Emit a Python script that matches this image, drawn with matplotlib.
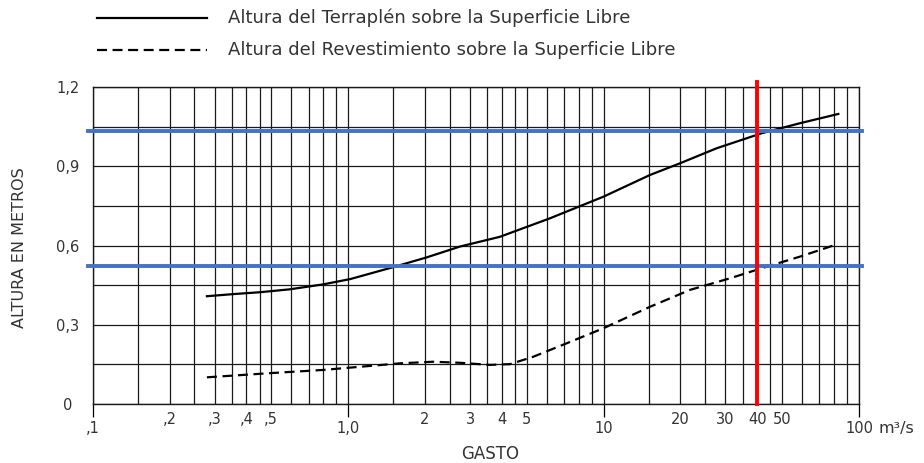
import matplotlib
matplotlib.use("Agg")
import matplotlib.pyplot as plt
from matplotlib.lines import Line2D
from matplotlib.ticker import FixedLocator, FixedFormatter, NullFormatter

# la imagen original tiene el texto ancho: DejaVu Sans se acerca mejor
plt.rcParams["font.family"] = ["DejaVu Sans"]

# curva continua: altura del terraplén
gasto_terraplen = [0.28, 0.355, 0.45, 0.59, 0.80, 1.02, 1.5, 2.03, 2.74, 3.93,
                   6.17, 10.0, 15.2, 19.9, 27.7, 41.6, 58.8, 83.0]
altura_terraplen = [0.408, 0.416, 0.423, 0.434, 0.453, 0.473, 0.518, 0.555, 0.596,
                    0.633, 0.703, 0.785, 0.867, 0.911, 0.968, 1.025, 1.063, 1.098]

# curva discontinua: altura del revestimiento
gasto_revest = [0.28, 0.48, 0.80, 1.60, 2.15, 2.74, 3.59, 4.31, 5.31, 7.18,
                10.0, 15.2, 21.8, 31.3, 41.6, 58.8, 80.5]
altura_revest = [0.101, 0.116, 0.129, 0.154, 0.160, 0.156, 0.148, 0.151, 0.179,
                 0.230, 0.287, 0.368, 0.432, 0.476, 0.514, 0.558, 0.602]

# lecturas marcadas
gasto_diseno = 40
lecturas_altura = [1.033, 0.522]

# ejes
major_x = [0.1, 1, 10, 100]
major_x_labels = [",1", "1,0", "10", "100"]
minor_x = [0.15, 0.2, 0.25, 0.3, 0.35, 0.4, 0.45, 0.5, 0.6, 0.7, 0.8, 0.9,
           1.5, 2, 2.5, 3, 3.5, 4, 4.5, 5, 6, 7, 8, 9,
           15, 20, 25, 30, 35, 40, 45, 50, 60, 70, 80, 90]
minor_x_labels = {0.2: ",2", 0.3: ",3", 0.4: ",4", 0.5: ",5",
                  2: "2", 3: "3", 4: "4", 5: "5",
                  20: "20", 30: "30", 40: "40", 50: "50"}
y_ticks = [0, 0.3, 0.6, 0.9, 1.2]
y_labels = ["0", "0,3", "0,6", "0,9", "1,2"]
y_grid = [0.15, 0.45, 0.75, 1.05]

W, H = 924, 463
fig = plt.figure(figsize=(W / 100, H / 100), dpi=100)
ax = fig.add_axes([92.7 / W, 1 - 404 / H, (859 - 92.7) / W, (404 - 87) / H])

ax.set_xscale("log")
ax.set_xlim(0.1, 100)
ax.set_ylim(0, 1.2)

tick_color = "#333333"
ax.xaxis.set_major_locator(FixedLocator(major_x))
ax.xaxis.set_major_formatter(FixedFormatter(major_x_labels))
ax.xaxis.set_minor_locator(FixedLocator(minor_x))
ax.xaxis.set_minor_formatter(FixedFormatter([minor_x_labels.get(v, "") for v in minor_x]))
ax.tick_params(axis="x", which="major", length=9, width=0.9, pad=3.5, labelsize=10.5,
               labelcolor=tick_color)
ax.tick_params(axis="x", which="minor", length=0, pad=5.5, labelsize=10.5,
               labelcolor=tick_color)

ax.set_yticks(y_ticks)
ax.set_yticklabels(y_labels)
ax.set_yticks(y_grid, minor=True)
ax.yaxis.set_minor_formatter(NullFormatter())
ax.tick_params(axis="y", which="major", length=0, pad=18, labelsize=10.5,
               labelcolor=tick_color)
ax.tick_params(axis="y", which="minor", length=0)
for lab in ax.get_yticklabels():
    lab.set_horizontalalignment("center")

ax.grid(True, which="both", axis="both", color="#1a1a1a", linewidth=0.9)
for sp in ax.spines.values():
    sp.set_color("#1a1a1a")
    sp.set_linewidth(1.0)

ax.plot(gasto_terraplen, altura_terraplen, color="black", linewidth=1.6, zorder=3)
ax.plot(gasto_revest, altura_revest, color="black", linewidth=1.6,
        dashes=(4.5, 2.5), zorder=3)

# lineas de lectura
for h in lecturas_altura:
    ax.plot([0.0958, 102.8], [h, h], color="#4472c4", linewidth=2.8,
            clip_on=False, zorder=4)
ax.plot([gasto_diseno, gasto_diseno], [0, 1.219], color="red", linewidth=2.8,
        clip_on=False, zorder=5)

fig.text(490 / W, 1 - 454 / H, "GASTO", ha="center", va="center", fontsize=12,
         color=tick_color)
fig.text(20 / W, 1 - 248 / H, "ALTURA EN METROS", ha="center", va="center",
         rotation=90, fontsize=11.5, color=tick_color)
fig.text(896 / W, 1 - 428 / H, "m³/s", ha="center", va="center", fontsize=11.5,
         color=tick_color)

# leyenda
fig.add_artist(Line2D([97 / W, 207 / W], [1 - 18 / H] * 2, color="black", linewidth=1.6))
fig.add_artist(Line2D([97 / W, 207 / W], [1 - 50 / H] * 2, color="black", linewidth=1.6,
                      dashes=(4.5, 2.5)))
fig.text(228 / W, 1 - 18 / H, "Altura del Terraplén sobre la Superficie Libre",
         ha="left", va="center", fontsize=13, color=tick_color)
fig.text(228 / W, 1 - 50 / H, "Altura del Revestimiento sobre la Superficie Libre",
         ha="left", va="center", fontsize=13, color=tick_color)

fig.savefig("out.png", dpi=100)
